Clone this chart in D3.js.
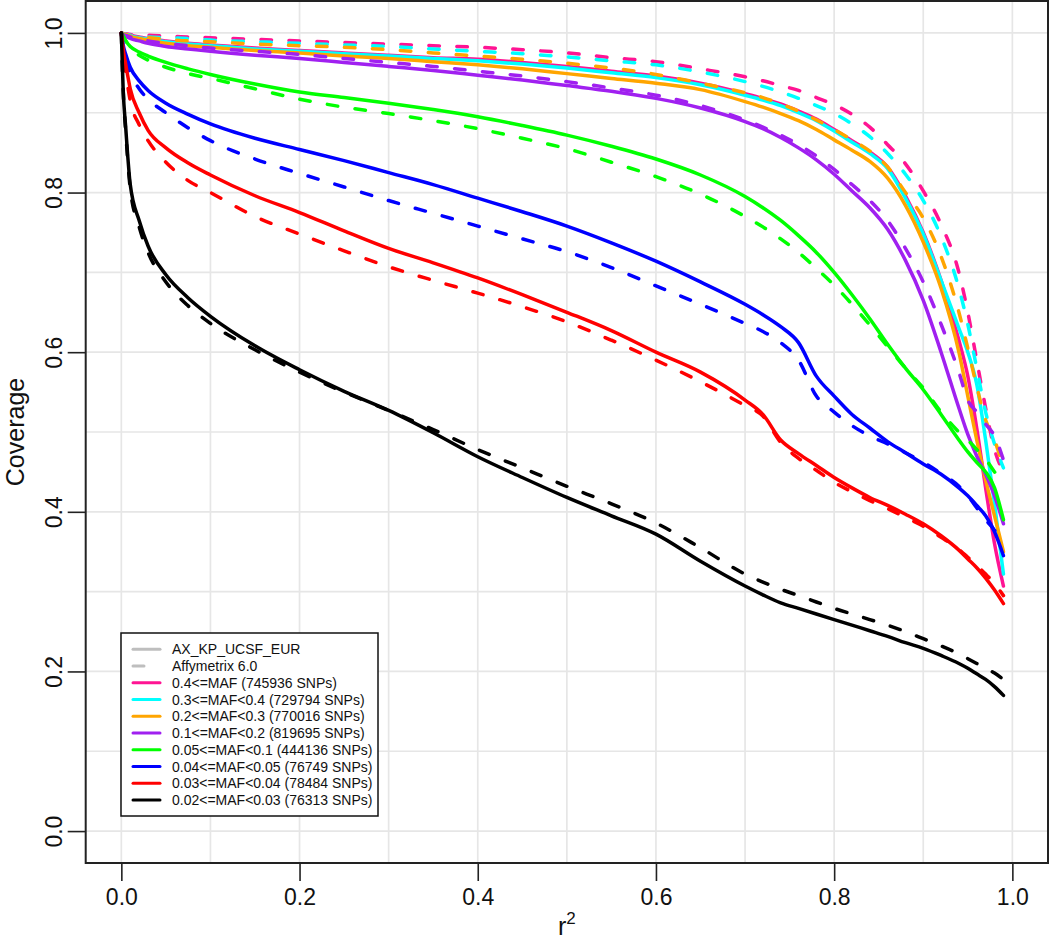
<!DOCTYPE html>
<html>
<head>
<meta charset="utf-8">
<script src="https://cdn.jsdelivr.net/npm/d3@7"></script>
<style>
  html, body { margin: 0; padding: 0; background: #fff; }
  svg { display: block; font-family: "Liberation Sans", Arial, Helvetica, sans-serif; }
</style>
</head>
<body>
<svg id="chart" width="1050" height="942"></svg>
<script>
// ---------------- data ----------------
const r2 = [0, 0.002, 0.005, 0.01, 0.02, 0.03, 0.05, 0.075, 0.1, 0.15, 0.2, 0.25, 0.3, 0.35, 0.4, 0.45, 0.5, 0.55, 0.6, 0.65, 0.7, 0.72, 0.74, 0.76, 0.78, 0.8, 0.82, 0.84, 0.86, 0.88, 0.9, 0.92, 0.94, 0.95, 0.96, 0.97, 0.98, 0.99];

const categories = [
  "0.4<=MAF (745936 SNPs)",
  "0.3<=MAF<0.4 (729794 SNPs)",
  "0.2<=MAF<0.3 (770016 SNPs)",
  "0.1<=MAF<0.2 (819695 SNPs)",
  "0.05<=MAF<0.1 (444136 SNPs)",
  "0.04<=MAF<0.05 (76749 SNPs)",
  "0.03<=MAF<0.04 (78484 SNPs)",
  "0.02<=MAF<0.03 (76313 SNPs)"
];
const arrays = ["AX_KP_UCSF_EUR", "Affymetrix 6.0"];

// AX_KP_UCSF_EUR (solid)
const axMaf40 = [1, 0.999, 0.998, 0.997, 0.995, 0.993, 0.99, 0.987, 0.985, 0.981, 0.978, 0.975, 0.972, 0.969, 0.967, 0.963, 0.958, 0.952, 0.946, 0.937, 0.924, 0.918, 0.911, 0.902, 0.892, 0.879, 0.865, 0.851, 0.832, 0.796, 0.75, 0.69, 0.615, 0.57, 0.505, 0.43, 0.36, 0.307];
const axMaf30 = [1, 0.999, 0.998, 0.996, 0.994, 0.992, 0.989, 0.986, 0.984, 0.98, 0.977, 0.974, 0.971, 0.968, 0.965, 0.961, 0.956, 0.95, 0.944, 0.935, 0.922, 0.916, 0.909, 0.9, 0.89, 0.877, 0.863, 0.849, 0.83, 0.793, 0.748, 0.69, 0.63, 0.6, 0.56, 0.49, 0.41, 0.322];
const axMaf20 = [1, 0.999, 0.997, 0.995, 0.993, 0.991, 0.987, 0.984, 0.982, 0.978, 0.975, 0.971, 0.968, 0.964, 0.96, 0.955, 0.949, 0.943, 0.937, 0.929, 0.914, 0.907, 0.899, 0.89, 0.879, 0.866, 0.853, 0.839, 0.818, 0.784, 0.738, 0.68, 0.6, 0.545, 0.49, 0.44, 0.395, 0.35];
const axMaf10 = [1, 0.998, 0.996, 0.993, 0.99, 0.987, 0.983, 0.98, 0.977, 0.972, 0.968, 0.963, 0.958, 0.953, 0.947, 0.941, 0.934, 0.927, 0.918, 0.906, 0.889, 0.88, 0.869, 0.856, 0.841, 0.823, 0.802, 0.781, 0.754, 0.715, 0.665, 0.6, 0.53, 0.497, 0.47, 0.447, 0.42, 0.385];
const axMaf05 = [1, 0.996, 0.99, 0.983, 0.976, 0.971, 0.963, 0.955, 0.948, 0.936, 0.926, 0.919, 0.912, 0.904, 0.895, 0.884, 0.872, 0.858, 0.842, 0.822, 0.795, 0.781, 0.765, 0.746, 0.725, 0.7, 0.672, 0.642, 0.61, 0.58, 0.553, 0.522, 0.49, 0.475, 0.462, 0.45, 0.43, 0.39];
const axMaf04 = [1, 0.985, 0.973, 0.957, 0.94, 0.928, 0.912, 0.898, 0.886, 0.868, 0.854, 0.84, 0.825, 0.81, 0.793, 0.776, 0.758, 0.737, 0.714, 0.688, 0.66, 0.647, 0.632, 0.612, 0.57, 0.545, 0.522, 0.505, 0.488, 0.474, 0.46, 0.447, 0.43, 0.42, 0.408, 0.395, 0.375, 0.345];
const axMaf03 = [1, 0.98, 0.96, 0.93, 0.9, 0.878, 0.856, 0.837, 0.822, 0.796, 0.775, 0.752, 0.73, 0.712, 0.693, 0.672, 0.65, 0.627, 0.6, 0.575, 0.54, 0.522, 0.49, 0.473, 0.458, 0.443, 0.43, 0.418, 0.408, 0.397, 0.385, 0.37, 0.352, 0.341, 0.33, 0.317, 0.302, 0.285];
const axMaf02 = [1, 0.93, 0.88, 0.81, 0.765, 0.733, 0.697, 0.668, 0.645, 0.608, 0.578, 0.551, 0.527, 0.499, 0.469, 0.443, 0.418, 0.395, 0.372, 0.338, 0.307, 0.296, 0.286, 0.279, 0.272, 0.265, 0.258, 0.251, 0.244, 0.236, 0.229, 0.22, 0.21, 0.204, 0.197, 0.19, 0.181, 0.17];

// Affymetrix 6.0 (dashed)
const affyMaf40 = [1, 0.999, 0.999, 0.998, 0.997, 0.997, 0.996, 0.995, 0.994, 0.992, 0.99, 0.988, 0.986, 0.984, 0.982, 0.979, 0.975, 0.969, 0.964, 0.955, 0.945, 0.94, 0.934, 0.928, 0.919, 0.91, 0.898, 0.882, 0.86, 0.836, 0.802, 0.76, 0.7, 0.65, 0.59, 0.53, 0.478, 0.45];
const affyMaf30 = [1, 0.999, 0.998, 0.997, 0.996, 0.995, 0.994, 0.993, 0.991, 0.989, 0.987, 0.985, 0.983, 0.98, 0.977, 0.974, 0.97, 0.965, 0.96, 0.951, 0.939, 0.933, 0.926, 0.918, 0.909, 0.899, 0.886, 0.87, 0.849, 0.823, 0.79, 0.745, 0.68, 0.635, 0.58, 0.525, 0.485, 0.455];
const affyMaf20 = [1, 0.999, 0.998, 0.996, 0.995, 0.994, 0.992, 0.99, 0.989, 0.986, 0.984, 0.982, 0.979, 0.975, 0.971, 0.967, 0.962, 0.956, 0.948, 0.937, 0.925, 0.919, 0.911, 0.902, 0.891, 0.879, 0.866, 0.852, 0.832, 0.8, 0.768, 0.72, 0.65, 0.605, 0.557, 0.515, 0.49, 0.455];
const affyMaf10 = [1, 0.998, 0.997, 0.995, 0.992, 0.99, 0.987, 0.984, 0.981, 0.977, 0.973, 0.968, 0.963, 0.958, 0.952, 0.946, 0.939, 0.931, 0.922, 0.909, 0.891, 0.882, 0.872, 0.86, 0.846, 0.829, 0.81, 0.79, 0.765, 0.73, 0.688, 0.635, 0.575, 0.54, 0.525, 0.51, 0.495, 0.465];
const affyMaf05 = [1, 0.996, 0.99, 0.982, 0.972, 0.966, 0.957, 0.949, 0.943, 0.93, 0.917, 0.907, 0.899, 0.89, 0.88, 0.868, 0.855, 0.838, 0.82, 0.798, 0.77, 0.757, 0.742, 0.725, 0.705, 0.684, 0.66, 0.634, 0.607, 0.58, 0.555, 0.525, 0.5, 0.49, 0.478, 0.466, 0.45, 0.435];
const affyMaf04 = [1, 0.982, 0.968, 0.95, 0.93, 0.917, 0.9, 0.881, 0.865, 0.842, 0.824, 0.807, 0.79, 0.774, 0.758, 0.742, 0.726, 0.706, 0.683, 0.66, 0.636, 0.626, 0.612, 0.59, 0.545, 0.525, 0.508, 0.495, 0.485, 0.474, 0.462, 0.448, 0.432, 0.42, 0.405, 0.39, 0.377, 0.36];
const affyMaf03 = [1, 0.975, 0.95, 0.915, 0.885, 0.865, 0.838, 0.815, 0.8, 0.77, 0.748, 0.727, 0.707, 0.69, 0.674, 0.657, 0.638, 0.615, 0.59, 0.563, 0.533, 0.52, 0.487, 0.467, 0.452, 0.437, 0.425, 0.414, 0.404, 0.393, 0.382, 0.368, 0.353, 0.343, 0.333, 0.322, 0.31, 0.295];
const affyMaf02 = [1, 0.93, 0.875, 0.805, 0.757, 0.725, 0.688, 0.658, 0.636, 0.603, 0.575, 0.55, 0.527, 0.503, 0.478, 0.455, 0.432, 0.41, 0.386, 0.355, 0.322, 0.312, 0.303, 0.295, 0.287, 0.279, 0.272, 0.265, 0.258, 0.25, 0.241, 0.232, 0.222, 0.216, 0.21, 0.204, 0.198, 0.19];

const xTicks = [0, 0.2, 0.4, 0.6, 0.8, 1.0];
const yTicks = [0, 0.2, 0.4, 0.6, 0.8, 1.0];

// ---------------- style ----------------
const colors = ["#FF1493", "#00FFFF", "#FFA500", "#A020F0", "#00FF00", "#0000FF", "#FF0000", "#000000"];
const axSeries = [axMaf40, axMaf30, axMaf20, axMaf10, axMaf05, axMaf04, axMaf03, axMaf02];
const affySeries = [affyMaf40, affyMaf30, affyMaf20, affyMaf10, affyMaf05, affyMaf04, affyMaf03, affyMaf02];
const DASH = "10.5,17.5";

const svg = d3.select("#chart");
const plot = { left: 85.7, right: 1048, top: 1, bottom: 863 };

const x = d3.scaleLinear().domain([-0.04, 1.04]).range([plot.left, plot.right]);
const y = d3.scaleLinear().domain([-0.04, 1.04]).range([plot.bottom, plot.top]);

// grid
const gridVals = d3.range(0, 1.0001, 0.1);
const grid = svg.append("g").attr("stroke", "#e6e6e6").attr("stroke-width", 1.7);
grid.selectAll("line.vx").data(gridVals).join("line")
  .attr("x1", d => x(d)).attr("x2", d => x(d))
  .attr("y1", plot.top).attr("y2", plot.bottom);
grid.selectAll("line.hy").data(gridVals).join("line")
  .attr("y1", d => y(d)).attr("y2", d => y(d))
  .attr("x1", plot.left).attr("x2", plot.right);

// curves
const line = d3.line().x((d, i) => x(r2[i])).y(d => y(d)).curve(d3.curveMonotoneX);
const curves = svg.append("g").attr("fill", "none").attr("stroke-linecap", "round").attr("stroke-linejoin", "round");
categories.forEach((c, k) => {
  curves.append("path").attr("d", line(axSeries[k]))
    .attr("stroke", colors[k]).attr("stroke-width", 3.5);
  curves.append("path").attr("d", line(affySeries[k]))
    .attr("stroke", colors[k]).attr("stroke-width", 3.5)
    .attr("stroke-dasharray", DASH);
});

// box
svg.append("rect")
  .attr("x", plot.left).attr("y", plot.top)
  .attr("width", plot.right - plot.left).attr("height", plot.bottom - plot.top)
  .attr("fill", "none").attr("stroke", "#222").attr("stroke-width", 2);

// x axis
const xAxis = d3.axisBottom(x).tickValues(xTicks).tickFormat(d3.format(".1f")).tickSize(18).tickPadding(8);
const gx = svg.append("g").attr("transform", `translate(0,${plot.bottom})`).call(xAxis);
gx.select(".domain").remove();
gx.selectAll(".tick line").attr("stroke", "#222").attr("stroke-width", 1.6);
gx.selectAll(".tick text").attr("font-size", 23).attr("fill", "#111")
  .attr("font-family", "Liberation Sans, Arial, sans-serif").attr("dy", "0.71em");

// y axis
const yAxis = d3.axisLeft(y).tickValues(yTicks).tickFormat(d3.format(".1f")).tickSize(18).tickPadding(6);
const gy = svg.append("g").attr("transform", `translate(${plot.left},0)`).call(yAxis);
gy.select(".domain").remove();
gy.selectAll(".tick line").attr("stroke", "#222").attr("stroke-width", 1.6);
gy.selectAll(".tick text").attr("font-size", 23).attr("fill", "#111")
  .attr("font-family", "Liberation Sans, Arial, sans-serif")
  .attr("text-anchor", "middle").attr("x", 0).attr("dy", 0)
  .attr("transform", "translate(-24,0) rotate(-90)");

// axis titles
const midX = (plot.left + plot.right) / 2;
const xt = svg.append("text").attr("x", midX).attr("y", 935).attr("text-anchor", "middle")
  .attr("font-size", 25).attr("fill", "#111");
xt.append("tspan").text("r");
xt.append("tspan").attr("font-size", 17).attr("dy", -11).text("2");

svg.append("text")
  .attr("transform", `translate(24,${(plot.top + plot.bottom) / 2}) rotate(-90)`)
  .attr("text-anchor", "middle").attr("font-size", 25).attr("fill", "#111")
  .text("Coverage");

// legend
const leg = svg.append("g");
leg.append("rect").attr("x", 121).attr("y", 633).attr("width", 257).attr("height", 183)
  .attr("fill", "#fff").attr("stroke", "#111").attr("stroke-width", 1.5);
const legendItems = [
  { label: arrays[0], color: "#BEBEBE", dash: null },
  { label: arrays[1], color: "#BEBEBE", dash: DASH }
].concat(categories.map((c, k) => ({ label: c, color: colors[k], dash: null })));
const rowY = d3.scaleLinear().domain([0, legendItems.length - 1]).range([649.3, 800]);
legendItems.forEach((it, i) => {
  const ly = rowY(i);
  const l = leg.append("line").attr("x1", 133).attr("x2", 160).attr("y1", ly).attr("y2", ly)
    .attr("stroke", it.color).attr("stroke-width", 3).attr("stroke-linecap", "round");
  if (it.dash) l.attr("stroke-dasharray", "11,20");
  leg.append("text").attr("x", 172).attr("y", ly).attr("dy", "0.36em")
    .attr("font-size", 14).attr("fill", "#111").text(it.label);
});
</script>
</body>
</html>
